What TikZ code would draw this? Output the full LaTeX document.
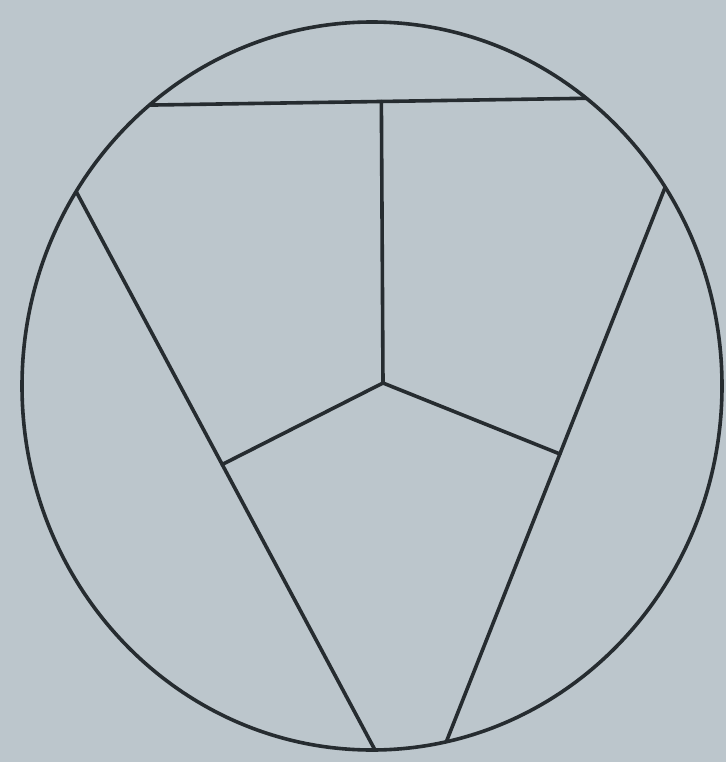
\documentclass[tikz,border=0pt]{standalone}
\usetikzlibrary{calc}
\definecolor{paper}{RGB}{188,198,204}
\definecolor{inkc}{RGB}{38,44,48}
\begin{document}
\begin{tikzpicture}[x=1pt,y=-1pt,
  ink/.style={draw=inkc,line width=3.6pt,line cap=round,line join=round}]
\fill[fill=paper] (0,0) rectangle (726,762);
\useasboundingbox (0,0) rectangle (726,762);
\coordinate (C) at (372,386);
\coordinate (T1) at (155,105);
\coordinate (T2) at (605,98);
\coordinate (L1) at (78,195);
\coordinate (L2) at (375,750);
\coordinate (R1) at (668,180);
\coordinate (R2) at (447,740);
\coordinate (V0) at (381,40);
\coordinate (M) at (383,383);
\coordinate (A0) at (225,463);
\coordinate (B0) at (555,452);
\coordinate (V) at (intersection of M--V0 and T1--T2);
\coordinate (A) at (intersection of M--A0 and L1--L2);
\coordinate (B) at (intersection of M--B0 and R1--R2);
\begin{scope}
  \clip (C) ellipse [x radius=350, y radius=364];
  \draw[ink] ($(T1)!-0.2!(T2)$) -- ($(T2)!-0.2!(T1)$);
  \draw[ink] ($(L1)!-0.2!(L2)$) -- ($(L2)!-0.2!(L1)$);
  \draw[ink] ($(R1)!-0.2!(R2)$) -- ($(R2)!-0.2!(R1)$);
\end{scope}
\draw[ink] (C) ellipse [x radius=350, y radius=364];
\draw[ink] (V) -- (M);
\draw[ink] (M) -- (A);
\draw[ink] (M) -- (B);
\end{tikzpicture}
\end{document}
